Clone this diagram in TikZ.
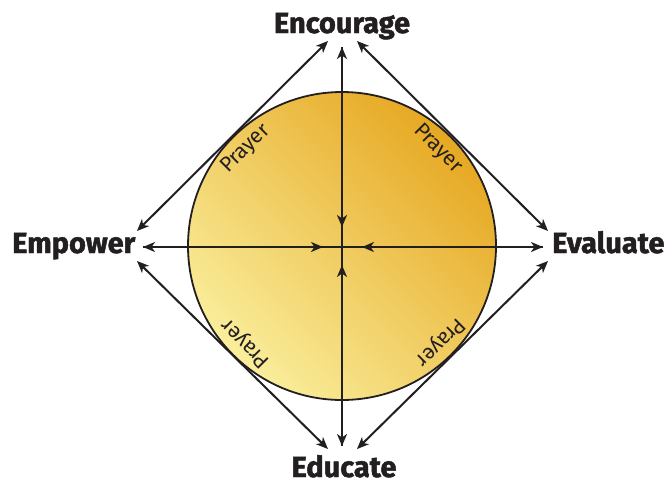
\documentclass[tikz,border=0pt]{standalone}
\usepackage{fontspec}
\setmainfont{Fira Sans}[BoldFeatures={FakeBold=1.6}]
\usetikzlibrary{arrows.meta}
\definecolor{ink}{HTML}{231F20}
\definecolor{goldD}{HTML}{E6A822}
\definecolor{goldL}{HTML}{FAEE9C}
\begin{document}
\begin{tikzpicture}[x=1pt,y=-1pt,
  lab/.style={font=\fontsize{29}{29}\bfseries\selectfont, text=ink, inner sep=0pt},
  pray/.style={font=\fontsize{21}{21}\selectfont, text=ink, inner sep=0pt},
  arr/.style={draw=ink, line width=2pt, -{Stealth[length=12pt,width=10pt,inset=3.5pt]}},
  darr/.style={draw=ink, line width=2pt, {Stealth[length=12pt,width=10pt,inset=3.5pt]}-{Stealth[length=12pt,width=10pt,inset=3.5pt]}}]
\useasboundingbox (0,0) rectangle (666,482);
\fill[white] (0,0) rectangle (666,482);
\coordinate (c) at (342,246);
\shade[top color=goldD,bottom color=goldL,shading angle=-45] (c) circle[radius=154];
\draw[ink, line width=1.8pt] (c) circle[radius=154];
% labels
\node[lab, anchor=base] (enc) at (342,33) {Encourage};
\node[lab, anchor=base west] (emp) at (12,253) {Empower};
\node[lab, anchor=base west] (eva) at (552,253) {Evaluate};
\node[lab, anchor=base] (edu) at (344,477) {Educate};
% prayer
\node[pray, rotate=45] (p1) at (246,149) {Prayer};
\node[pray, rotate=-45] (p2) at (438,149) {Prayer};
\node[pray, rotate=135] (p3) at (246,343) {Prayer};
\node[pray, rotate=225] (p4) at (440,342) {Prayer};
% arrow tip coordinates
\coordinate (tlA) at (328,41);
\coordinate (tlB) at (137,231);
\coordinate (trA) at (357,41);
\coordinate (trB) at (548,231);
\coordinate (blA) at (137,261);
\coordinate (blB) at (328,449);
\coordinate (brA) at (548,261);
\coordinate (brB) at (357,449);
\coordinate (vt) at (342,47);
\coordinate (vb) at (342,446);
\coordinate (hl) at (143,247);
\coordinate (hr) at (543,247);
\coordinate (ct) at (342,227);
\coordinate (cb) at (342,265);
\coordinate (cl) at (323,247);
\coordinate (cr) at (362,247);
% diamond
\draw[darr] (tlA) -- (tlB);
\draw[darr] (trA) -- (trB);
\draw[darr] (blA) -- (blB);
\draw[darr] (brA) -- (brB);
% cross
\draw[arr] (c) -- (vt);
\draw[arr] (vt) -- (ct);
\draw[arr] (c) -- (vb);
\draw[arr] (vb) -- (cb);
\draw[arr] (342,247) -- (hl);
\draw[arr] (hl) -- (cl);
\draw[arr] (342,247) -- (hr);
\draw[arr] (hr) -- (cr);
\end{tikzpicture}
\end{document}
